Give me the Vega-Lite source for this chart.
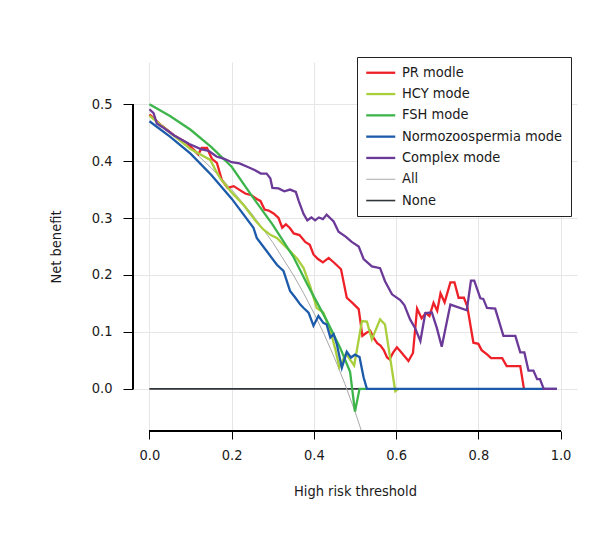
{
  "$schema": "https://vega.github.io/schema/vega-lite/v6.json",
  "width": 444,
  "height": 369,
  "autosize": {"type": "none"},
  "padding": {"left": 133, "top": 62, "right": 29, "bottom": 117},
  "background": "white",
  "config": {
    "font": "DejaVu Sans Condensed, DejaVu Sans, sans-serif",
    "view": {"stroke": null},
    "axis": {
      "domain": false,
      "grid": true,
      "gridColor": "#e6e6e6",
      "gridWidth": 1,
      "ticks": true,
      "tickColor": "#000",
      "tickWidth": 1,
      "labelColor": "#1a1a1a",
      "labelFont": "DejaVu Sans Condensed, DejaVu Sans, sans-serif",
      "labelFontSize": 14.5,
      "titleFont": "DejaVu Sans Condensed, DejaVu Sans, sans-serif",
      "titleFontSize": 14.5,
      "titleFontWeight": "normal",
      "titleColor": "#1a1a1a"
    },
    "legend": {
      "labelFont": "DejaVu Sans Condensed, DejaVu Sans, sans-serif",
      "labelFontSize": 14.5,
      "labelColor": "#1a1a1a",
      "labelLimit": 400,
      "symbolType": "stroke",
      "symbolSize": 841,
      "symbolStrokeWidth": 2.3,
      "symbolOffset": 8,
      "labelOffset": 14,
      "padding": 8.5,
      "rowPadding": 6.3,
      "strokeColor": "#222",
      "fillColor": "white"
    }
  },
  "datasets": {
    "curves": [
      {"s": "None", "x": 0, "y": 0}, {"s": "None", "x": 0.99, "y": 0},

      {"s": "All", "x": 0, "y": 0.48}, {"s": "All", "x": 0.05, "y": 0.4526}, {"s": "All", "x": 0.1, "y": 0.4222},
      {"s": "All", "x": 0.15, "y": 0.3882}, {"s": "All", "x": 0.2, "y": 0.35}, {"s": "All", "x": 0.25, "y": 0.3067},
      {"s": "All", "x": 0.3, "y": 0.2571}, {"s": "All", "x": 0.35, "y": 0.2}, {"s": "All", "x": 0.375, "y": 0.168},
      {"s": "All", "x": 0.4, "y": 0.1333}, {"s": "All", "x": 0.425, "y": 0.0957}, {"s": "All", "x": 0.45, "y": 0.0545},
      {"s": "All", "x": 0.475, "y": 0.0095}, {"s": "All", "x": 0.5, "y": -0.04}, {"s": "All", "x": 0.52, "y": -0.0833},

      {"s": "PR modle", "x": 0.0, "y": 0.482}, {"s": "PR modle", "x": 0.03, "y": 0.462}, {"s": "PR modle", "x": 0.06, "y": 0.445},
      {"s": "PR modle", "x": 0.091, "y": 0.432}, {"s": "PR modle", "x": 0.105, "y": 0.422}, {"s": "PR modle", "x": 0.119, "y": 0.412},
      {"s": "PR modle", "x": 0.127, "y": 0.423}, {"s": "PR modle", "x": 0.14, "y": 0.423}, {"s": "PR modle", "x": 0.152, "y": 0.404},
      {"s": "PR modle", "x": 0.164, "y": 0.397}, {"s": "PR modle", "x": 0.176, "y": 0.367}, {"s": "PR modle", "x": 0.19, "y": 0.353},
      {"s": "PR modle", "x": 0.205, "y": 0.356}, {"s": "PR modle", "x": 0.22, "y": 0.349}, {"s": "PR modle", "x": 0.233, "y": 0.343},
      {"s": "PR modle", "x": 0.248, "y": 0.34}, {"s": "PR modle", "x": 0.262, "y": 0.333}, {"s": "PR modle", "x": 0.27, "y": 0.33},
      {"s": "PR modle", "x": 0.28, "y": 0.315}, {"s": "PR modle", "x": 0.29, "y": 0.313}, {"s": "PR modle", "x": 0.302, "y": 0.308},
      {"s": "PR modle", "x": 0.314, "y": 0.3}, {"s": "PR modle", "x": 0.323, "y": 0.283}, {"s": "PR modle", "x": 0.332, "y": 0.289},
      {"s": "PR modle", "x": 0.342, "y": 0.282}, {"s": "PR modle", "x": 0.351, "y": 0.273}, {"s": "PR modle", "x": 0.365, "y": 0.27},
      {"s": "PR modle", "x": 0.379, "y": 0.258}, {"s": "PR modle", "x": 0.39, "y": 0.253}, {"s": "PR modle", "x": 0.399, "y": 0.236},
      {"s": "PR modle", "x": 0.41, "y": 0.228}, {"s": "PR modle", "x": 0.422, "y": 0.222}, {"s": "PR modle", "x": 0.436, "y": 0.23},
      {"s": "PR modle", "x": 0.45, "y": 0.221}, {"s": "PR modle", "x": 0.466, "y": 0.21}, {"s": "PR modle", "x": 0.48, "y": 0.16},
      {"s": "PR modle", "x": 0.495, "y": 0.15}, {"s": "PR modle", "x": 0.509, "y": 0.14}, {"s": "PR modle", "x": 0.518, "y": 0.093},
      {"s": "PR modle", "x": 0.527, "y": 0.098}, {"s": "PR modle", "x": 0.537, "y": 0.102}, {"s": "PR modle", "x": 0.545, "y": 0.09},
      {"s": "PR modle", "x": 0.554, "y": 0.08}, {"s": "PR modle", "x": 0.562, "y": 0.076}, {"s": "PR modle", "x": 0.57, "y": 0.068},
      {"s": "PR modle", "x": 0.578, "y": 0.055}, {"s": "PR modle", "x": 0.584, "y": 0.052}, {"s": "PR modle", "x": 0.593, "y": 0.064},
      {"s": "PR modle", "x": 0.602, "y": 0.073}, {"s": "PR modle", "x": 0.615, "y": 0.062}, {"s": "PR modle", "x": 0.63, "y": 0.049},
      {"s": "PR modle", "x": 0.641, "y": 0.063}, {"s": "PR modle", "x": 0.651, "y": 0.141}, {"s": "PR modle", "x": 0.662, "y": 0.124},
      {"s": "PR modle", "x": 0.672, "y": 0.133}, {"s": "PR modle", "x": 0.681, "y": 0.128}, {"s": "PR modle", "x": 0.691, "y": 0.151},
      {"s": "PR modle", "x": 0.7, "y": 0.137}, {"s": "PR modle", "x": 0.708, "y": 0.168}, {"s": "PR modle", "x": 0.718, "y": 0.152},
      {"s": "PR modle", "x": 0.732, "y": 0.187}, {"s": "PR modle", "x": 0.742, "y": 0.187}, {"s": "PR modle", "x": 0.752, "y": 0.16},
      {"s": "PR modle", "x": 0.765, "y": 0.16}, {"s": "PR modle", "x": 0.773, "y": 0.145}, {"s": "PR modle", "x": 0.788, "y": 0.081},
      {"s": "PR modle", "x": 0.8, "y": 0.079}, {"s": "PR modle", "x": 0.808, "y": 0.068}, {"s": "PR modle", "x": 0.822, "y": 0.06},
      {"s": "PR modle", "x": 0.831, "y": 0.054}, {"s": "PR modle", "x": 0.858, "y": 0.054}, {"s": "PR modle", "x": 0.869, "y": 0.04},
      {"s": "PR modle", "x": 0.902, "y": 0.04}, {"s": "PR modle", "x": 0.911, "y": 0.0},

      {"s": "HCY mode", "x": 0.0, "y": 0.48}, {"s": "HCY mode", "x": 0.05, "y": 0.45}, {"s": "HCY mode", "x": 0.1, "y": 0.421},
      {"s": "HCY mode", "x": 0.148, "y": 0.402}, {"s": "HCY mode", "x": 0.16, "y": 0.385}, {"s": "HCY mode", "x": 0.172, "y": 0.37},
      {"s": "HCY mode", "x": 0.2, "y": 0.345}, {"s": "HCY mode", "x": 0.23, "y": 0.322}, {"s": "HCY mode", "x": 0.257, "y": 0.296},
      {"s": "HCY mode", "x": 0.277, "y": 0.28}, {"s": "HCY mode", "x": 0.295, "y": 0.27}, {"s": "HCY mode", "x": 0.31, "y": 0.265},
      {"s": "HCY mode", "x": 0.326, "y": 0.253}, {"s": "HCY mode", "x": 0.342, "y": 0.242}, {"s": "HCY mode", "x": 0.36, "y": 0.228},
      {"s": "HCY mode", "x": 0.375, "y": 0.212}, {"s": "HCY mode", "x": 0.391, "y": 0.18}, {"s": "HCY mode", "x": 0.407, "y": 0.142},
      {"s": "HCY mode", "x": 0.423, "y": 0.134}, {"s": "HCY mode", "x": 0.44, "y": 0.102}, {"s": "HCY mode", "x": 0.452, "y": 0.07},
      {"s": "HCY mode", "x": 0.462, "y": 0.038}, {"s": "HCY mode", "x": 0.478, "y": 0.062}, {"s": "HCY mode", "x": 0.498, "y": 0.041},
      {"s": "HCY mode", "x": 0.517, "y": 0.119}, {"s": "HCY mode", "x": 0.529, "y": 0.118}, {"s": "HCY mode", "x": 0.541, "y": 0.087},
      {"s": "HCY mode", "x": 0.561, "y": 0.122}, {"s": "HCY mode", "x": 0.573, "y": 0.113}, {"s": "HCY mode", "x": 0.598, "y": -0.004},
      {"s": "HCY mode", "x": 0.606, "y": 0.0},

      {"s": "FSH mode", "x": 0.0, "y": 0.5}, {"s": "FSH mode", "x": 0.05, "y": 0.479}, {"s": "FSH mode", "x": 0.1, "y": 0.455},
      {"s": "FSH mode", "x": 0.15, "y": 0.425}, {"s": "FSH mode", "x": 0.2, "y": 0.39}, {"s": "FSH mode", "x": 0.25, "y": 0.338},
      {"s": "FSH mode", "x": 0.3, "y": 0.288}, {"s": "FSH mode", "x": 0.35, "y": 0.232}, {"s": "FSH mode", "x": 0.383, "y": 0.185},
      {"s": "FSH mode", "x": 0.4, "y": 0.162}, {"s": "FSH mode", "x": 0.432, "y": 0.119}, {"s": "FSH mode", "x": 0.464, "y": 0.072},
      {"s": "FSH mode", "x": 0.488, "y": 0.03}, {"s": "FSH mode", "x": 0.5, "y": -0.04}, {"s": "FSH mode", "x": 0.511, "y": 0.0},
      {"s": "FSH mode", "x": 0.53, "y": 0.0},

      {"s": "Normozoospermia mode", "x": 0.0, "y": 0.47}, {"s": "Normozoospermia mode", "x": 0.05, "y": 0.443},
      {"s": "Normozoospermia mode", "x": 0.1, "y": 0.413}, {"s": "Normozoospermia mode", "x": 0.15, "y": 0.376},
      {"s": "Normozoospermia mode", "x": 0.2, "y": 0.334}, {"s": "Normozoospermia mode", "x": 0.23, "y": 0.305},
      {"s": "Normozoospermia mode", "x": 0.253, "y": 0.283}, {"s": "Normozoospermia mode", "x": 0.261, "y": 0.265},
      {"s": "Normozoospermia mode", "x": 0.285, "y": 0.242}, {"s": "Normozoospermia mode", "x": 0.31, "y": 0.218},
      {"s": "Normozoospermia mode", "x": 0.326, "y": 0.207}, {"s": "Normozoospermia mode", "x": 0.342, "y": 0.172},
      {"s": "Normozoospermia mode", "x": 0.355, "y": 0.16}, {"s": "Normozoospermia mode", "x": 0.367, "y": 0.148},
      {"s": "Normozoospermia mode", "x": 0.375, "y": 0.142}, {"s": "Normozoospermia mode", "x": 0.387, "y": 0.134},
      {"s": "Normozoospermia mode", "x": 0.399, "y": 0.111}, {"s": "Normozoospermia mode", "x": 0.411, "y": 0.128},
      {"s": "Normozoospermia mode", "x": 0.423, "y": 0.116}, {"s": "Normozoospermia mode", "x": 0.431, "y": 0.113},
      {"s": "Normozoospermia mode", "x": 0.44, "y": 0.09}, {"s": "Normozoospermia mode", "x": 0.448, "y": 0.096},
      {"s": "Normozoospermia mode", "x": 0.456, "y": 0.078}, {"s": "Normozoospermia mode", "x": 0.468, "y": 0.037},
      {"s": "Normozoospermia mode", "x": 0.48, "y": 0.065}, {"s": "Normozoospermia mode", "x": 0.49, "y": 0.055},
      {"s": "Normozoospermia mode", "x": 0.5, "y": 0.06}, {"s": "Normozoospermia mode", "x": 0.511, "y": 0.056},
      {"s": "Normozoospermia mode", "x": 0.521, "y": 0.02}, {"s": "Normozoospermia mode", "x": 0.529, "y": 0.0},
      {"s": "Normozoospermia mode", "x": 0.991, "y": 0.0},

      {"s": "Complex mode", "x": 0.0, "y": 0.491}, {"s": "Complex mode", "x": 0.01, "y": 0.484}, {"s": "Complex mode", "x": 0.018, "y": 0.466},
      {"s": "Complex mode", "x": 0.031, "y": 0.46}, {"s": "Complex mode", "x": 0.06, "y": 0.445}, {"s": "Complex mode", "x": 0.097, "y": 0.43},
      {"s": "Complex mode", "x": 0.125, "y": 0.421}, {"s": "Complex mode", "x": 0.144, "y": 0.418}, {"s": "Complex mode", "x": 0.163, "y": 0.408},
      {"s": "Complex mode", "x": 0.182, "y": 0.404}, {"s": "Complex mode", "x": 0.2, "y": 0.398}, {"s": "Complex mode", "x": 0.219, "y": 0.396},
      {"s": "Complex mode", "x": 0.238, "y": 0.39}, {"s": "Complex mode", "x": 0.257, "y": 0.384}, {"s": "Complex mode", "x": 0.271, "y": 0.378},
      {"s": "Complex mode", "x": 0.285, "y": 0.378}, {"s": "Complex mode", "x": 0.294, "y": 0.37}, {"s": "Complex mode", "x": 0.299, "y": 0.353},
      {"s": "Complex mode", "x": 0.314, "y": 0.352}, {"s": "Complex mode", "x": 0.328, "y": 0.347}, {"s": "Complex mode", "x": 0.342, "y": 0.35},
      {"s": "Complex mode", "x": 0.356, "y": 0.346}, {"s": "Complex mode", "x": 0.363, "y": 0.33}, {"s": "Complex mode", "x": 0.375, "y": 0.307},
      {"s": "Complex mode", "x": 0.384, "y": 0.296}, {"s": "Complex mode", "x": 0.394, "y": 0.301}, {"s": "Complex mode", "x": 0.403, "y": 0.296},
      {"s": "Complex mode", "x": 0.412, "y": 0.301}, {"s": "Complex mode", "x": 0.422, "y": 0.298}, {"s": "Complex mode", "x": 0.431, "y": 0.306},
      {"s": "Complex mode", "x": 0.448, "y": 0.294}, {"s": "Complex mode", "x": 0.46, "y": 0.276}, {"s": "Complex mode", "x": 0.478, "y": 0.267},
      {"s": "Complex mode", "x": 0.492, "y": 0.258}, {"s": "Complex mode", "x": 0.509, "y": 0.25}, {"s": "Complex mode", "x": 0.521, "y": 0.228},
      {"s": "Complex mode", "x": 0.541, "y": 0.215}, {"s": "Complex mode", "x": 0.561, "y": 0.212}, {"s": "Complex mode", "x": 0.573, "y": 0.189},
      {"s": "Complex mode", "x": 0.59, "y": 0.166}, {"s": "Complex mode", "x": 0.61, "y": 0.156}, {"s": "Complex mode", "x": 0.62, "y": 0.147},
      {"s": "Complex mode", "x": 0.634, "y": 0.122}, {"s": "Complex mode", "x": 0.646, "y": 0.107}, {"s": "Complex mode", "x": 0.659, "y": 0.084},
      {"s": "Complex mode", "x": 0.671, "y": 0.133}, {"s": "Complex mode", "x": 0.687, "y": 0.134}, {"s": "Complex mode", "x": 0.699, "y": 0.107},
      {"s": "Complex mode", "x": 0.711, "y": 0.074}, {"s": "Complex mode", "x": 0.732, "y": 0.148}, {"s": "Complex mode", "x": 0.772, "y": 0.138},
      {"s": "Complex mode", "x": 0.782, "y": 0.19}, {"s": "Complex mode", "x": 0.79, "y": 0.19}, {"s": "Complex mode", "x": 0.805, "y": 0.159},
      {"s": "Complex mode", "x": 0.812, "y": 0.158}, {"s": "Complex mode", "x": 0.821, "y": 0.142}, {"s": "Complex mode", "x": 0.841, "y": 0.141},
      {"s": "Complex mode", "x": 0.861, "y": 0.093}, {"s": "Complex mode", "x": 0.89, "y": 0.093}, {"s": "Complex mode", "x": 0.902, "y": 0.064},
      {"s": "Complex mode", "x": 0.912, "y": 0.064}, {"s": "Complex mode", "x": 0.922, "y": 0.032}, {"s": "Complex mode", "x": 0.934, "y": 0.032},
      {"s": "Complex mode", "x": 0.943, "y": 0.017}, {"s": "Complex mode", "x": 0.95, "y": 0.017}, {"s": "Complex mode", "x": 0.959, "y": 0.0},
      {"s": "Complex mode", "x": 0.991, "y": 0.0}
    ]
  },
  "data": {"name": "curves"},
  "layer": [
    {
      "transform": [{"filter": "datum.s === 'None'"}],
      "mark": {"type": "line", "clip": true, "strokeWidth": 1.6},
      "encoding": {
        "x": {"field": "x", "type": "quantitative",
          "scale": {"domain": [-0.04, 1.04], "nice": false, "zero": false},
          "axis": {"title": "High risk threshold", "values": [0, 0.2, 0.4, 0.6, 0.8, 1.0], "format": ".1f",
            "tickSize": 8, "labelPadding": 9, "titlePadding": 23}},
        "y": {"field": "y", "type": "quantitative",
          "scale": {"domain": [-0.074, 0.574], "nice": false, "zero": false},
          "axis": {"title": "Net benefit", "values": [0, 0.1, 0.2, 0.3, 0.4, 0.5], "format": ".1f",
            "tickSize": 10, "labelPadding": 11, "titlePadding": 28}},
        "color": {"field": "s", "type": "nominal",
          "scale": {"domain": ["PR modle", "HCY mode", "FSH mode", "Normozoospermia mode", "Complex mode", "All", "None"],
                    "range": ["#ee2028", "#a9cf3c", "#3db54a", "#1c5aaa", "#6b3a99", "#a8a8a8", "#2f353b"]},
          "legend": {"title": null, "orient": "none", "legendX": 224, "legendY": -5,
            "encode": {"symbols": {"update": {"strokeWidth": {"signal": "datum.value === 'All' ? 1 : (datum.value === 'None' ? 1.6 : 2.3)"}}}}}},
        "order": {"field": "x", "type": "quantitative"}
      }
    },
    {
      "transform": [{"filter": "datum.s === 'All'"}],
      "mark": {"type": "line", "clip": true, "strokeWidth": 1},
      "encoding": {
        "x": {"field": "x", "type": "quantitative"},
        "y": {"field": "y", "type": "quantitative"},
        "color": {"field": "s", "type": "nominal"},
        "order": {"field": "x", "type": "quantitative"}
      }
    },
    {
      "transform": [{"filter": "datum.s === 'PR modle'"}],
      "mark": {"type": "line", "clip": true, "strokeWidth": 2.3},
      "encoding": {
        "x": {"field": "x", "type": "quantitative"},
        "y": {"field": "y", "type": "quantitative"},
        "color": {"field": "s", "type": "nominal"},
        "order": {"field": "x", "type": "quantitative"}
      }
    },
    {
      "transform": [{"filter": "datum.s === 'HCY mode'"}],
      "mark": {"type": "line", "clip": true, "strokeWidth": 2.3},
      "encoding": {
        "x": {"field": "x", "type": "quantitative"},
        "y": {"field": "y", "type": "quantitative"},
        "color": {"field": "s", "type": "nominal"},
        "order": {"field": "x", "type": "quantitative"}
      }
    },
    {
      "transform": [{"filter": "datum.s === 'FSH mode'"}],
      "mark": {"type": "line", "clip": true, "strokeWidth": 2.3},
      "encoding": {
        "x": {"field": "x", "type": "quantitative"},
        "y": {"field": "y", "type": "quantitative"},
        "color": {"field": "s", "type": "nominal"},
        "order": {"field": "x", "type": "quantitative"}
      }
    },
    {
      "transform": [{"filter": "datum.s === 'Normozoospermia mode'"}],
      "mark": {"type": "line", "clip": true, "strokeWidth": 2.3},
      "encoding": {
        "x": {"field": "x", "type": "quantitative"},
        "y": {"field": "y", "type": "quantitative"},
        "color": {"field": "s", "type": "nominal"},
        "order": {"field": "x", "type": "quantitative"}
      }
    },
    {
      "transform": [{"filter": "datum.s === 'Complex mode'"}],
      "mark": {"type": "line", "clip": true, "strokeWidth": 2.3},
      "encoding": {
        "x": {"field": "x", "type": "quantitative"},
        "y": {"field": "y", "type": "quantitative"},
        "color": {"field": "s", "type": "nominal"},
        "order": {"field": "x", "type": "quantitative"}
      }
    },
    {
      "mark": {"type": "rule", "color": "#000", "strokeWidth": 1},
      "encoding": {
        "x": {"datum": -0.04, "type": "quantitative"},
        "y": {"datum": 0, "type": "quantitative"},
        "y2": {"datum": 0.5}
      }
    },
    {
      "mark": {"type": "rule", "color": "#000", "strokeWidth": 1},
      "encoding": {
        "y": {"datum": -0.074, "type": "quantitative"},
        "x": {"datum": 0, "type": "quantitative"},
        "x2": {"datum": 1}
      }
    }
  ]
}
